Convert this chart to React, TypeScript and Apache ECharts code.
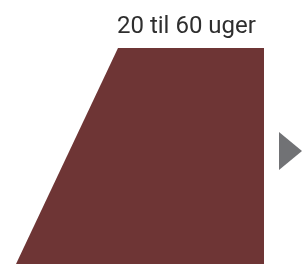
import React, { useEffect, useRef } from "react";
import * as echarts from "echarts";

const label = "20 til 60 uger";
const shapeNames = ["trapezoid", "arrow"];
const trapezoidX = [118, 264, 264, 16];
const trapezoidY = [48, 48, 264, 264];
const arrowX = [279, 302, 279];
const arrowY = [132, 151, 170];
const colors = ["#6e3535", "#717275"];

export default function App() {
  const ref = useRef<HTMLDivElement>(null);
  useEffect(() => {
    if (!ref.current) return;
    const chart = echarts.init(ref.current, undefined, { renderer: "svg" });
    const shapes = [
      trapezoidX.map((x, i) => [x, trapezoidY[i]]),
      arrowX.map((x, i) => [x, arrowY[i]]),
    ];
    chart.setOption({
      animation: false,
      grid: { left: 0, right: 0, top: 0, bottom: 0 },
      xAxis: { type: "value", min: 0, max: 302, show: false },
      yAxis: { type: "value", min: 0, max: 264, inverse: true, show: false },
      graphic: [
        {
          type: "text",
          left: 117,
          top: 13,
          style: {
            text: label,
            fontSize: 24,
            fontFamily: "Roboto",
            fill: "#2e2e2e",
          },
        },
      ],
      series: [
        {
          type: "custom",
          data: shapeNames.map((n, i) => ({ name: n, value: [i] })),
          renderItem: (params: any, api: any) => {
            const idx = api.value(0);
            const pts = shapes[idx].map((p: number[]) => api.coord(p));
            return {
              type: "polygon",
              shape: { points: pts },
              style: { fill: colors[idx] },
            };
          },
        },
      ],
    });
    return () => chart.dispose();
  }, []);
  return (
    <div
      ref={ref}
      style={{ position: "fixed", left: 0, top: 0, width: 302, height: 264 }}
    />
  );
}
